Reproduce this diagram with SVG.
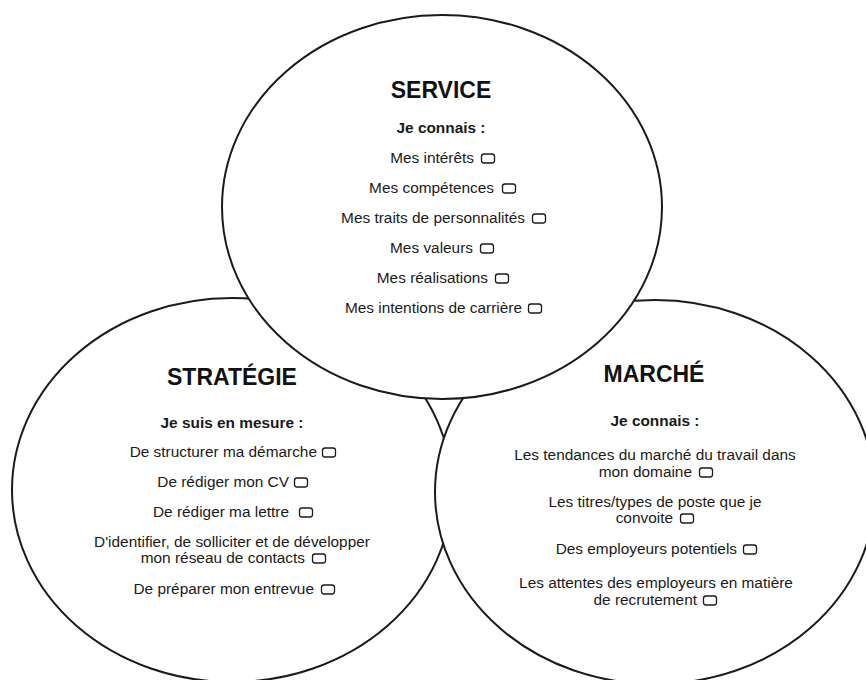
<svg xmlns="http://www.w3.org/2000/svg" width="866" height="680" viewBox="0 0 866 680">
<style>
.c{fill:#fff;stroke:#1a1a1a;stroke-width:2}
.t{font-family:"Liberation Sans",Arial,sans-serif;font-size:23px;font-weight:bold;fill:#111;text-anchor:middle}
.h{font-family:"Liberation Sans",Arial,sans-serif;font-size:15.4px;font-weight:bold;fill:#1a1a1a;text-anchor:middle}
.i{font-family:"Liberation Sans",Arial,sans-serif;font-size:15.4px;fill:#1a1a1a;text-anchor:end}
.m{font-family:"Liberation Sans",Arial,sans-serif;font-size:15.4px;fill:#1a1a1a;text-anchor:middle}
.b{fill:none;stroke:#1a1a1a;stroke-width:1.3}
</style>
<rect width="866" height="680" fill="#fff"/>
<g id="connectors"/>
<g id="node-strategie">
<ellipse class="c" cx="232" cy="490" rx="220" ry="192"/>
<text class="t" x="232" y="385">STRATÉGIE</text>
<text class="h" x="232" y="428">Je suis en mesure :</text>
<text class="i" x="317" y="457">De structurer ma démarche</text>
<rect class="b" x="322.5" y="448" width="13" height="9" rx="2.5"/>
<text class="i" x="289" y="487">De rédiger mon CV</text>
<rect class="b" x="294.5" y="478" width="13" height="9" rx="2.5"/>
<text class="i" x="289" y="517">De rédiger ma lettre</text>
<rect class="b" x="299.5" y="508" width="13" height="9" rx="2.5"/>
<text class="m" x="232" y="547">D'identifier, de solliciter et de développer</text>
<text class="i" x="305" y="563">mon réseau de contacts</text>
<rect class="b" x="312.5" y="554" width="13" height="9" rx="2.5"/>
<text class="i" x="314" y="594">De préparer mon entrevue</text>
<rect class="b" x="321.5" y="585" width="13" height="9" rx="2.5"/>
</g>
<g id="node-marche">
<ellipse class="c" cx="655" cy="492" rx="220" ry="192"/>
<text class="t" x="654" y="382">MARCHÉ</text>
<text class="h" x="655" y="426">Je connais :</text>
<text class="m" x="655" y="460">Les tendances du marché du travail dans</text>
<text class="i" x="692" y="477">mon domaine</text>
<rect class="b" x="699.5" y="468" width="13" height="9" rx="2.5"/>
<text class="m" x="655" y="507">Les titres/types de poste que je</text>
<text class="i" x="673" y="523">convoite</text>
<rect class="b" x="680.5" y="514" width="13" height="9" rx="2.5"/>
<text class="i" x="737" y="554">Des employeurs potentiels</text>
<rect class="b" x="743.5" y="545" width="13" height="9" rx="2.5"/>
<text class="m" x="656" y="588">Les attentes des employeurs en matière</text>
<text class="i" x="697" y="605">de recrutement</text>
<rect class="b" x="703.5" y="596" width="13" height="9" rx="2.5"/>
</g>
<g id="node-service">
<ellipse class="c" cx="442" cy="207" rx="220" ry="192"/>
<text class="t" x="441" y="98">SERVICE</text>
<text class="h" x="441" y="133">Je connais :</text>
<text class="i" x="474" y="163">Mes intérêts</text>
<rect class="b" x="481.5" y="154" width="13" height="9" rx="2.5"/>
<text class="i" x="494" y="193">Mes compétences</text>
<rect class="b" x="502.5" y="184" width="13" height="9" rx="2.5"/>
<text class="i" x="525" y="223">Mes traits de personnalités</text>
<rect class="b" x="532.5" y="214" width="13" height="9" rx="2.5"/>
<text class="i" x="473" y="253">Mes valeurs</text>
<rect class="b" x="480.5" y="244" width="13" height="9" rx="2.5"/>
<text class="i" x="488" y="283">Mes réalisations</text>
<rect class="b" x="495.5" y="274" width="13" height="9" rx="2.5"/>
<text class="i" x="522" y="313">Mes intentions de carrière</text>
<rect class="b" x="528.5" y="304" width="13" height="9" rx="2.5"/>
</g>
</svg>
